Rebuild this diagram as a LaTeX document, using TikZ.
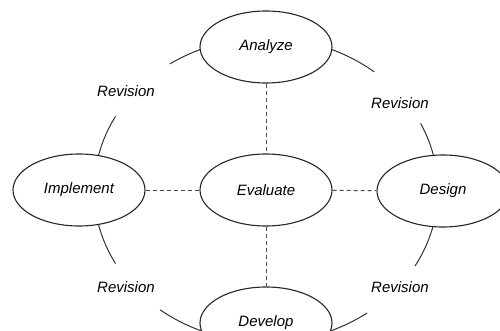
\documentclass[tikz,border=0pt]{standalone}
\usepackage{fontspec}
\setmainfont{Liberation Sans}
\usetikzlibrary{shapes.geometric}
\tikzset{
  phase/.style={ellipse, draw=black!85, line width=1.1pt, fill=white,
    minimum width=132pt, minimum height=72pt, inner sep=0pt,
    font=\fontsize{15}{18}\selectfont\itshape},
  revlabel/.style={font=\fontsize{15}{18}\selectfont\itshape, inner sep=1pt},
  cycle/.style={draw=black!80, line width=1pt},
  link/.style={draw=black!70, line width=1pt, dash pattern=on 4pt off 3pt}
}
\begin{document}
\begin{tikzpicture}[x=1pt,y=1pt]
\useasboundingbox (0,0) rectangle (500,330);
\coordinate (C) at (266,140);
% revision arcs (drawn first, hidden under the phase ellipses)
\path[cycle] (C) ++(105:172 and 152) arc[start angle=105, end angle=124, x radius=172, y radius=152];
\path[cycle] (C) ++(151:172 and 152) arc[start angle=151, end angle=172, x radius=172, y radius=152];
\path[cycle] (C) ++(75:172 and 152) arc[start angle=75, end angle=51, x radius=172, y radius=152];
\path[cycle] (C) ++(26:172 and 152) arc[start angle=26, end angle=8, x radius=172, y radius=152];
\path[cycle] (C) ++(188:172 and 152) arc[start angle=188, end angle=209, x radius=172, y radius=152];
\path[cycle] (C) ++(232:172 and 152) arc[start angle=232, end angle=255, x radius=172, y radius=152];
\path[cycle] (C) ++(352:172 and 152) arc[start angle=352, end angle=330, x radius=172, y radius=152];
\path[cycle] (C) ++(306:172 and 152) arc[start angle=306, end angle=285, x radius=172, y radius=152];
% phases
\node[phase] (analyze) at (266,283) {Analyze};
\node[phase] (evaluate) at (266,140) {Evaluate};
\node[phase] (develop) at (266,7) {Develop};
\node[phase] (implement) at (79,140) {Implement};
\node[phase] (design) at (443,139) {Design};
% dashed links
\draw[link] (analyze) -- (evaluate);
\draw[link] (evaluate) -- (develop);
\draw[link] (implement) -- (evaluate);
\draw[link] (evaluate) -- (design);
% labels
\node[revlabel] (r1) at (126,239) {Revision};
\node[revlabel] (r2) at (400,227) {Revision};
\node[revlabel] (r3) at (126,43) {Revision};
\node[revlabel] (r4) at (400,43) {Revision};
\end{tikzpicture}
\end{document}
